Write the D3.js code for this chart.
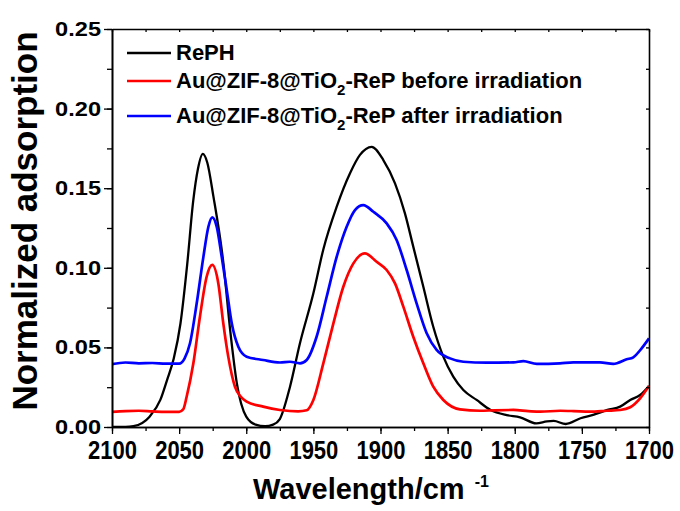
<!DOCTYPE html>
<html>
<head>
<meta charset="utf-8">
<script src="https://cdn.jsdelivr.net/npm/d3@7"></script>
<style>
  body { margin: 0; background: #fff; }
  svg text { font-family: "Liberation Sans", Arial, sans-serif; font-weight: bold; fill: #000; }
</style>
</head>
<body>
<div id="chart"></div>
<script>
// IR spectra: RePH vs Au@ZIF-8@TiO2-ReP before / after irradiation
const xTicks = [2100, 2050, 2000, 1950, 1900, 1850, 1800, 1750, 1700];
const xMinor = d3.range(2100, 1699, -25);
const yTicks = [0.00, 0.05, 0.10, 0.15, 0.20, 0.25];
const yMinor = d3.range(0, 0.2501, 0.025);

const seriesNames = ["RePH", "Au@ZIF-8@TiO2-ReP before irradiation", "Au@ZIF-8@TiO2-ReP after irradiation"];
const seriesColors = ["#000000", "#ff0000", "#0000ff"];

const rephWn = [2100, 2090, 2084, 2072, 2064, 2059, 2054, 2049, 2044, 2039.5, 2036, 2032.4, 2029, 2024.5, 2017, 2012, 2007, 2000, 1993, 1986, 1980, 1975, 1967.4, 1960, 1950, 1942.6, 1932.6, 1922.7, 1915.3, 1906.6, 1897.9, 1889.2, 1881.8, 1875.6, 1868.1, 1860.7, 1853.2, 1845.8, 1838.3, 1828.4, 1818, 1806, 1796, 1784, 1776, 1771, 1762, 1751, 1741, 1731, 1721.5, 1714, 1706.6, 1700];
const rephAbs = [0.000, 0.000, 0.0005, 0.0065, 0.017, 0.0295, 0.043, 0.065, 0.102, 0.142, 0.162, 0.1715, 0.166, 0.145, 0.1028, 0.061, 0.0274, 0.0065, 0.0015, 0.0005, 0.0015, 0.005, 0.0253, 0.0526, 0.084, 0.1115, 0.1384, 0.1594, 0.1709, 0.176, 0.1677, 0.153, 0.1342, 0.1133, 0.0881, 0.063, 0.0442, 0.0316, 0.0232, 0.017, 0.0107, 0.0075, 0.0061, 0.0023, 0.0035, 0.0038, 0.0019, 0.0055, 0.0078, 0.0107, 0.0128, 0.017, 0.0201, 0.0258];

const beforeWn = [2100, 2090, 2080, 2070, 2060, 2050, 2047, 2044.4, 2039.4, 2034.5, 2029.5, 2025.3, 2020.8, 2017.1, 2013.4, 2008.4, 2004, 1999.7, 1987.4, 1974.9, 1961.3, 1955, 1950, 1942.6, 1935.1, 1927.7, 1920.2, 1911.6, 1902.9, 1895.4, 1889.2, 1883, 1875.6, 1868.1, 1860.7, 1853.2, 1840.8, 1825.9, 1815, 1801, 1790, 1781, 1766, 1756, 1744, 1731.5, 1721.5, 1714, 1706.6, 1700];
const beforeAbs = [0.0095, 0.0100, 0.0102, 0.0098, 0.0095, 0.0095, 0.011, 0.019, 0.040, 0.0693, 0.0944, 0.1018, 0.0902, 0.0651, 0.0442, 0.0253, 0.019, 0.0159, 0.0128, 0.0107, 0.0098, 0.0105, 0.017, 0.040, 0.0651, 0.0881, 0.1028, 0.109, 0.1038, 0.0986, 0.0902, 0.0756, 0.0567, 0.040, 0.0253, 0.017, 0.0111, 0.0102, 0.0105, 0.0107, 0.0100, 0.0096, 0.0102, 0.0100, 0.0096, 0.0102, 0.0107, 0.0124, 0.018, 0.0258];

const afterWn = [2100, 2090, 2080, 2070, 2060, 2050, 2046, 2041.9, 2036.9, 2031.9, 2028.2, 2025.3, 2022, 2018.3, 2014.5, 2010.8, 2005.9, 1999.7, 1987.4, 1974.9, 1967.4, 1960, 1955, 1947.6, 1940.1, 1932.6, 1925.2, 1919, 1912.8, 1905.3, 1895.4, 1888, 1880.5, 1873.1, 1865.6, 1858.2, 1848.2, 1838.3, 1820.9, 1801, 1793.6, 1783.6, 1766.3, 1756.4, 1736.5, 1726.6, 1716.6, 1711.7, 1705.5, 1700];
const afterAbs = [0.0395, 0.0405, 0.0400, 0.0402, 0.0398, 0.0398, 0.043, 0.0526, 0.0777, 0.107, 0.1258, 0.1317, 0.1258, 0.107, 0.086, 0.0651, 0.0504, 0.0442, 0.0421, 0.0405, 0.041, 0.040, 0.0421, 0.0567, 0.0818, 0.107, 0.1258, 0.1363, 0.1394, 0.1352, 0.1279, 0.1175, 0.0986, 0.0777, 0.0589, 0.0484, 0.0431, 0.041, 0.0404, 0.0406, 0.0414, 0.0396, 0.040, 0.0406, 0.0406, 0.0396, 0.0425, 0.0438, 0.0494, 0.0557];

const W = 680, H = 511;
const margin = {top: 29, left: 112, right: 31, bottom: 84};
const iw = W - margin.left - margin.right;
const ih = H - margin.top - margin.bottom;

const svg = d3.select("#chart").append("svg")
  .attr("width", W).attr("height", H);

const g = svg.append("g").attr("transform", `translate(${margin.left},${margin.top})`);

const x = d3.scaleLinear().domain([2100, 1700]).range([0, iw]);
const y = d3.scaleLinear().domain([0, 0.25]).range([ih, 0]);

g.append("clipPath").attr("id", "clip")
  .append("rect").attr("width", iw).attr("height", ih + 2).attr("y", -1);

// curves
const line = d3.line().x(d => x(d[0])).y(d => y(d[1])).curve(d3.curveMonotoneX);
const series = [
  d3.zip(rephWn, rephAbs),
  d3.zip(beforeWn, beforeAbs),
  d3.zip(afterWn, afterAbs)
];
g.append("g").attr("clip-path", "url(#clip)")
  .selectAll("path")
  .data(series)
  .join("path")
  .attr("d", line)
  .attr("fill", "none")
  .attr("stroke", (d, i) => seriesColors[i])
  .attr("stroke-width", (d, i) => i === 0 ? 2.3 : 2.7)
  .attr("stroke-linejoin", "round");

// axes
function styleAxis(sel) {
  sel.select(".domain").attr("stroke", "#000").attr("stroke-width", 1.6);
  sel.selectAll(".tick line").attr("stroke", "#000").attr("stroke-width", 1.3);
}

g.append("g").attr("transform", `translate(0,${ih})`)
  .call(d3.axisBottom(x).tickValues(xMinor).tickSize(4).tickSizeOuter(0).tickFormat(""))
  .call(styleAxis);
// x labels are a little taller than plain Arial
const xStretch = 1.13;
g.append("g").attr("transform", `translate(0,${ih})`)
  .call(d3.axisBottom(x).tickValues(xTicks).tickSize(7).tickSizeOuter(0).tickFormat(d3.format("d")))
  .call(styleAxis)
  .call(s => s.selectAll("text")
    .style("font-size", "22px")
    .attr("y", 14 / xStretch)
    .attr("transform", `scale(1,${xStretch})`));

g.append("g")
  .call(d3.axisLeft(y).tickValues(yMinor).tickSize(5).tickSizeOuter(0).tickFormat(""))
  .call(styleAxis);
// Origin's labels are a bit wider than Arial: stretch horizontally
const yStretch = 1.18;
g.append("g")
  .call(d3.axisLeft(y).tickValues(yTicks).tickSize(8).tickSizeOuter(0).tickFormat(d3.format(".2f")))
  .call(styleAxis)
  .call(s => s.selectAll("text")
    .style("font-size", "20px")
    .attr("x", -11 / yStretch)
    .attr("transform", `scale(${yStretch},1)`));

g.append("g")
  .call(d3.axisTop(x).tickValues(xMinor).tickSize(-3).tickSizeOuter(0).tickFormat(""))
  .call(styleAxis);
g.append("g").attr("transform", `translate(${iw},0)`)
  .call(d3.axisRight(y).tickValues(yMinor).tickSize(-3).tickSizeOuter(0).tickFormat(""))
  .call(styleAxis);

// axis titles
svg.append("text")
  .attr("transform", `translate(37,${margin.top + ih / 2 - 7}) rotate(-90)`)
  .attr("text-anchor", "middle")
  .style("font-size", "35px")
  .text("Normalized adsorption");

const xt = svg.append("text")
  .attr("x", 253).attr("y", 499)
  .style("font-size", "29px");
xt.append("tspan").text("Wavelength/cm");
xt.append("tspan").attr("dx", 10).attr("dy", -12).style("font-size", "16px").text("-1");

// legend
const legendRows = [53, 81, 116];
const legend = svg.append("g");
seriesNames.forEach((name, i) => {
  const row = legend.append("g").attr("transform", `translate(127,${legendRows[i]})`);
  row.append("line").attr("x1", 0).attr("x2", 44)
    .attr("stroke", seriesColors[i]).attr("stroke-width", i === 0 ? 2.3 : 2.7);
  const t = row.append("text").attr("x", 49).attr("y", 7).style("font-size", "22px");
  if (i === 0) {
    t.text(name);
  } else {
    const rest = name.slice("Au@ZIF-8@TiO2".length);
    t.append("tspan").text("Au@ZIF-8@TiO");
    t.append("tspan").attr("dy", 7).style("font-size", "15px").text("2");
    t.append("tspan").attr("dy", -7).text(rest);
  }
});
</script>
</body>
</html>
